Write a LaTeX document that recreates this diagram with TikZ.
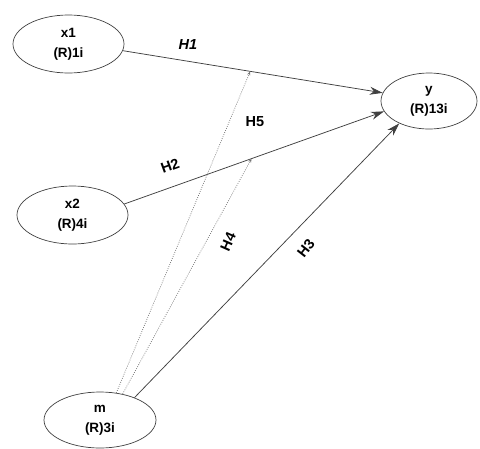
\documentclass[tikz,border=0pt]{standalone}
\usepackage{fontspec}
\setmainfont{Liberation Sans}
\usetikzlibrary{shapes.geometric,arrows.meta}

\begin{document}
\begin{tikzpicture}[x=1pt, y=-1pt, var/.style={draw=black!75, ellipse, line width=.7pt, inner sep=0pt, align=center, font=\fontsize{13.5}{20}\selectfont\bfseries}, lbl/.style={inner sep=1pt, font=\fontsize{14.5}{16}\selectfont\bfseries}, hyp/.style={draw=black!75, line width=.75pt, -{Stealth[length=13pt,width=8pt]}}, mod/.style={draw=black!55, line width=.7pt, dash pattern=on .8pt off 1.4pt, -{Stealth[length=4pt,width=3pt]}}]
\useasboundingbox (0,0) rectangle (480,448);
\node[var, minimum width=111pt, minimum height=58pt] (x1) at (68.5,44){x1\\(R)1i};
\node[var, minimum width=111pt, minimum height=58pt] (x2) at (72.5,215){x2\\(R)4i};
\node[var, minimum width=112pt, minimum height=56pt] (m) at (100,420){m\\(R)3i};
\node[var, minimum width=96pt, minimum height=56pt] (y) at (429,101){y\\(R)13i};
\draw[hyp] (x1.-7) -- coordinate[pos=.49] (h1m) (y.170);
\draw[hyp] (x2.12) -- coordinate[pos=.49] (h2m) (y.193);
\draw[hyp] (m.33) -- (y.217);
\draw[mod] (m.59) -- (h1m);
\draw[mod] (m.49) -- (h2m);
\node[lbl, font=\fontsize{14.5}{16}\selectfont\bfseries\itshape] (l1) at (188,45){H1};
\node[lbl, rotate=20] (l2) at (170,166){H2};
\node[lbl, rotate=52] (l3) at (306,248){H3};
\node[lbl, rotate=66] (l4) at (228,242){H4};
\node[lbl] (l5) at (255,122){H5};
\end{tikzpicture}
\end{document}
